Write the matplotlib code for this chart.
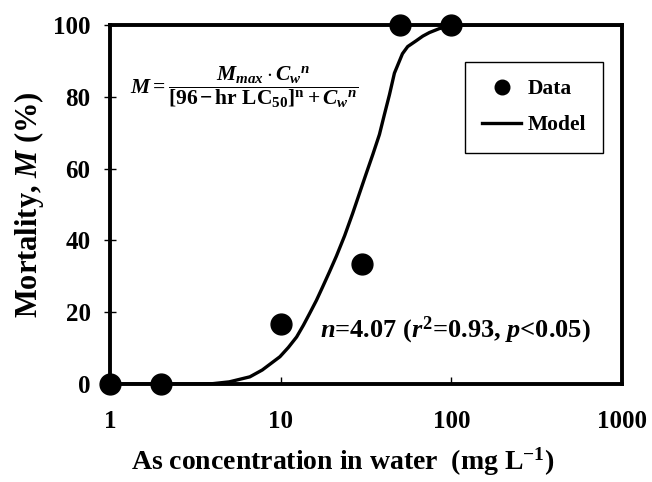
import numpy as np
import matplotlib
matplotlib.use("Agg")
import matplotlib.pyplot as plt

plt.rcParams['font.family'] = ['Liberation Serif', 'DejaVu Serif']
plt.rcParams['font.weight'] = 'bold'
plt.rcParams['axes.labelweight'] = 'bold'
plt.rcParams['mathtext.fontset'] = 'custom'
plt.rcParams['mathtext.rm'] = 'Liberation Serif:bold'
plt.rcParams['mathtext.it'] = 'Liberation Serif:italic:bold'
plt.rcParams['mathtext.bf'] = 'Liberation Serif:bold'

# measured data
conc = [1, 2, 10, 30, 50, 100]
mortality = [0, 0, 16.7, 33.3, 100, 100]

# model curve
model_x = [1, 2, 3, 4, 5.0, 6.6, 7.8, 9.9, 11.1, 12.4, 13.6, 14.8, 16.2, 17.6,
           19.3, 21.2, 23.7, 26.4, 29.0, 31.7, 34.7, 37.9, 40.5, 43.4, 46.4,
           51.7, 55.5, 62.2, 68.0, 74.4, 85.0, 97.3, 120, 1000]
model_y = [0, 0, 0, 0.1, 0.6, 2.0, 3.9, 7.6, 10.2, 13.1, 16.4, 19.7, 23.3, 27.0,
           31.2, 35.6, 41.3, 47.5, 53.2, 58.6, 64.0, 69.5, 75.0, 80.6, 86.6,
           92.0, 94.0, 95.6, 96.9, 97.9, 99.0, 99.7, 100, 100]

x_ticks = [1, 10, 100, 1000]
y_ticks = [0, 20, 40, 60, 80, 100]

fig = plt.figure(figsize=(6.52, 4.82), dpi=100)
ax = fig.add_axes([0.1687, 0.2033, 0.7853, 0.7448])

ax.plot(model_x, model_y, color='black', lw=2.4, label='Model', zorder=2)
ax.plot(conc, mortality, 'o', color='black', ms=15, label='Data', clip_on=False, zorder=3)

ax.set_xscale('log')
ax.set_xlim(1, 1000)
ax.set_ylim(0, 100)
ax.set_xticks(x_ticks)
ax.set_xticklabels([str(t) for t in x_ticks])
ax.xaxis.set_minor_locator(matplotlib.ticker.NullLocator())
ax.set_yticks(y_ticks)

for s in ax.spines.values():
    s.set_linewidth(2.8)

ax.tick_params(axis='x', direction='in', length=5, width=1, pad=19, labelsize=18)
ax.tick_params(axis='y', direction='inout', length=8, width=1, pad=10, labelsize=18)

ax.set_xlabel('As concentration in water  (mg L$^{\\mathrm{-1}}$)', fontsize=20)
ax.xaxis.set_label_coords(0.455, -0.172)
ax.set_ylabel('Mortality, $M$ (%)', fontsize=22, labelpad=5)

ax.text(0.04, 0.827,
        r'$M = \dfrac{M_{max}\cdot C_{w}{}^{n}}{[96\,\mathrm{-\,hr\ LC_{50}}]^{\mathrm{n}} + C_{w}{}^{n}}$',
        transform=ax.transAxes, fontsize=15.5, va='center', ha='left')

ax.text(0.41, 0.15, r'$n$=4.07 ($r^{2}$=0.93, $p$<0.05)',
        transform=ax.transAxes, fontsize=19, va='center', ha='left')

handles, labels = ax.get_legend_handles_labels()
leg = ax.legend(handles[::-1], labels[::-1], loc='upper right',
                bbox_to_anchor=(0.963, 0.897), borderaxespad=0,
                fontsize=15.5, fancybox=False, edgecolor='black', framealpha=1,
                markerscale=0.7, handlelength=1.8, handletextpad=0.3,
                borderpad=0.8, labelspacing=0.75)
leg.get_frame().set_linewidth(1.0)

fig.savefig('out.png', dpi=100)
